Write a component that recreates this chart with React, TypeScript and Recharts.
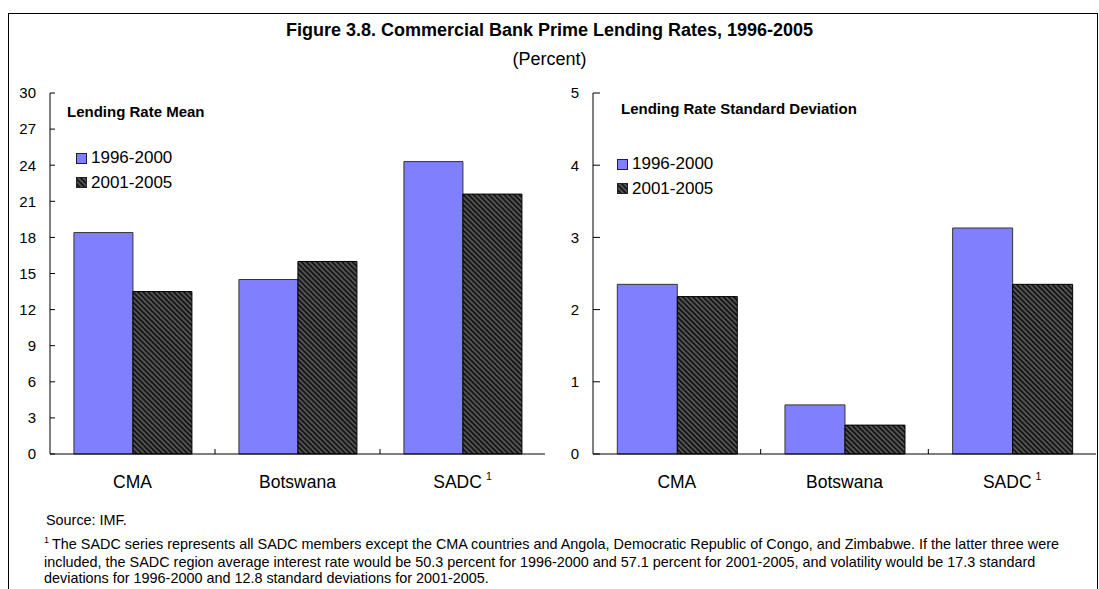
import React from 'react';
import { BarChart, Bar, XAxis, YAxis, Legend } from 'recharts';

const categories = ['CMA', 'Botswana', 'SADC'];
const periods = ['1996-2000', '2001-2005'];
const meanEarly = [18.4, 14.5, 24.3];
const meanLate = [13.5, 16.0, 21.6];
const sdEarly = [2.35, 0.68, 3.13];
const sdLate = [2.18, 0.4, 2.35];
const meanTicks = [0, 3, 6, 9, 12, 15, 18, 21, 24, 27, 30];
const sdTicks = [0, 1, 2, 3, 4, 5];

const FONT = "Arial, 'Liberation Sans', sans-serif";
const BLUE = '#8080ff';

const footnotes = [
  'The SADC series represents all SADC members except the CMA countries and Angola, Democratic Republic of Congo, and Zimbabwe. If the latter three were',
  'included, the SADC region average interest rate would be 50.3 percent for 1996-2000 and 57.1 percent for 2001-2005, and volatility would be 17.3 standard',
  'deviations for 1996-2000 and 12.8 standard deviations for 2001-2005.',
];

function buildData(early: number[], late: number[]) {
  return categories.map((name, i) => ({ name, early: early[i], late: late[i] }));
}

function CatTick(props: any) {
  const { x, y, payload, band } = props;
  const isSadc = payload.value === 'SADC';
  return (
    <g>
      <text x={x} y={y + 34} textAnchor="middle" fontSize={17.5} fontFamily={FONT} fill="#000">
        {payload.value}
        {isSadc && (
          <tspan dx={4} dy={-8} fontSize={10.5}>
            1
          </tspan>
        )}
      </text>
      {payload.index < categories.length - 1 && (
        <line x1={x + band / 2} x2={x + band / 2} y1={y} y2={y - 5} stroke="#000" />
      )}
    </g>
  );
}

function LegendContent({ payload }: any) {
  return (
    <div style={{ fontFamily: FONT, fontSize: 17, color: '#000' }}>
      {payload.map((p: any) => (
        <div key={p.value} style={{ display: 'flex', alignItems: 'center', height: 24.5 }}>
          <svg width={11} height={11} style={{ display: 'block' }}>
            <rect x={0.5} y={0.5} width={10} height={10} fill={p.color} stroke="#222" />
          </svg>
          <span style={{ marginLeft: 4 }}>{p.value}</span>
        </div>
      ))}
    </div>
  );
}

interface PanelProps {
  id: string;
  early: number[];
  late: number[];
  ticks: number[];
  width: number;
  yWidth: number;
  right: number;
  tickIn: number;
  legendPos: { left: number; top: number };
}

function Panel({ id, early, late, ticks, width, yWidth, right, tickIn, legendPos }: PanelProps) {
  const data = buildData(early, late);
  const band = (width - yWidth - right) / categories.length;
  const max = ticks[ticks.length - 1];
  return (
    <BarChart
      width={width}
      height={500}
      data={data}
      margin={{ top: 93, right, bottom: 0, left: 0 }}
      barCategoryGap="14.5%"
      barGap={0}
    >
      <defs>
        <pattern
          id={id}
          width={3.6}
          height={3.6}
          patternUnits="userSpaceOnUse"
          patternTransform="rotate(-45)"
        >
          <rect width={3.6} height={3.6} fill="#161616" />
          <line x1={0.9} y1={0} x2={0.9} y2={3.6} stroke="#5c5c5c" strokeWidth={1.6} />
        </pattern>
      </defs>
      <XAxis
        dataKey="name"
        height={46}
        tickSize={0}
        tickMargin={0}
        interval={0}
        axisLine={{ stroke: '#000' }}
        tick={<CatTick band={band} />}
      />
      <XAxis
        xAxisId="top"
        dataKey="name"
        orientation="top"
        height={0}
        tick={false}
        tickLine={false}
        axisLine={{ stroke: '#000' }}
      />
      <YAxis
        width={yWidth}
        domain={[0, max]}
        ticks={ticks}
        interval={0}
        tickSize={-tickIn}
        tickMargin={tickIn + 14}
        axisLine={{ stroke: '#000' }}
        tickLine={{ stroke: '#000' }}
        tick={{ fill: '#000', fontSize: 15, fontFamily: FONT }}
      />
      <YAxis
        yAxisId="right"
        orientation="right"
        width={0}
        domain={[0, 1]}
        tick={false}
        tickLine={false}
        axisLine={{ stroke: '#000' }}
      />
      <Legend
        layout="vertical"
        align="center"
        verticalAlign="middle"
        content={<LegendContent />}
        wrapperStyle={{ left: legendPos.left, top: legendPos.top, width: 160, height: 50 }}
      />
      <Bar dataKey="early" name={periods[0]} fill={BLUE} stroke="#333" strokeWidth={1} isAnimationActive={false} />
      <Bar dataKey="late" name={periods[1]} fill={`url(#${id})`} stroke="#000" strokeWidth={1} isAnimationActive={false} />
    </BarChart>
  );
}

export default function App() {
  return (
    <div style={{ position: 'absolute', left: 0, top: 0, width: 1099, height: 589, background: '#fff', fontFamily: FONT, color: '#000', overflow: 'hidden' }}>
      <div style={{ position: 'absolute', left: 8, top: 13, width: 1088, height: 600, borderLeft: '1px solid #000', borderTop: '1px solid #000', borderRight: '1px solid #000' }} />
      <div style={{ position: 'absolute', left: 0, width: 1099, top: 20, textAlign: 'center', fontWeight: 'bold', fontSize: 18 }}>
        Figure 3.8. Commercial Bank Prime Lending Rates, 1996-2005
      </div>
      <div style={{ position: 'absolute', left: 0, width: 1099, top: 49, textAlign: 'center', fontSize: 18 }}>(Percent)</div>

      <div style={{ position: 'absolute', left: 0, top: 0 }}>
        <Panel id="hatchMean" early={meanEarly} late={meanLate} ticks={meanTicks} width={550} yWidth={50} right={5} tickIn={5} legendPos={{ left: 76, top: 146 }} />
      </div>
      <div style={{ position: 'absolute', left: 550, top: 0 }}>
        <Panel id="hatchSd" early={sdEarly} late={sdLate} ticks={sdTicks} width={548} yWidth={43} right={2} tickIn={7} legendPos={{ left: 67, top: 152 }} />
      </div>

      <div style={{ position: 'absolute', left: 67, top: 103, fontWeight: 'bold', fontSize: 15 }}>Lending Rate Mean</div>
      <div style={{ position: 'absolute', left: 621, top: 100, fontWeight: 'bold', fontSize: 15 }}>Lending Rate Standard Deviation</div>

      <div style={{ position: 'absolute', left: 46, top: 512, fontSize: 14.4, whiteSpace: 'nowrap' }}>Source: IMF.</div>
      {footnotes.map((line, i) => (
        <div key={i} style={{ position: 'absolute', left: 44, top: [535, 554, 570][i], fontSize: 14.4, whiteSpace: 'nowrap' }}>
          {i === 0 && <sup style={{ fontSize: 9, marginRight: 3 }}>1</sup>}
          {line}
        </div>
      ))}
    </div>
  );
}
